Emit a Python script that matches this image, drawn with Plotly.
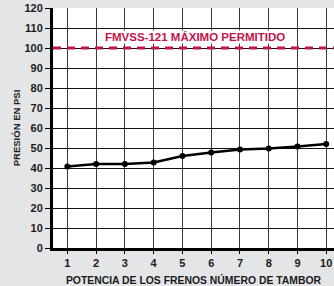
import plotly.graph_objects as go

drums = [1, 2, 3, 4, 5, 6, 7, 8, 9, 10]
pressure = [40.8, 42, 42, 42.8, 46, 47.8, 49.2, 49.7, 50.8, 52]
limit_value = 100
limit_label = "FMVSS-121 MÁXIMO PERMITIDO"
y_ticks = list(range(0, 121, 10))

fig = go.Figure()
fig.add_trace(go.Scatter(
    x=drums, y=pressure, mode="lines+markers",
    line=dict(color="black", width=2.5),
    marker=dict(color="black", size=6),
    showlegend=False,
))

fig.add_shape(type="line", xref="paper", yref="y", x0=0, x1=1,
              y0=limit_value, y1=limit_value,
              line=dict(color="#c4124a", width=3, dash="8px,6px"))

fig.add_annotation(x=5.43, y=105.3, xref="x", yref="y", text=limit_label,
                   showarrow=False, bgcolor="white", borderpad=0,
                   font=dict(family="Liberation Sans Narrow, Arial Narrow, Arial", size=11.5,
                             color="#c4124a", weight="bold"))

font_main = "Liberation Sans, Arial, sans-serif"
fig.update_layout(
    width=334, height=286,
    margin=dict(l=53, r=0, t=8, b=38),
    paper_bgcolor="#e4e5e7", plot_bgcolor="white",
    font=dict(family=font_main, color="#1a1a1a"),
    xaxis=dict(range=[0.5, 10.27], tickvals=drums, showgrid=True, automargin=False,
               gridcolor="#3a3a3a", gridwidth=1.2, zeroline=False,
               showline=True, linecolor="black", linewidth=3,
               ticks="outside", ticklen=3, tickcolor="black",
               tickfont=dict(size=11, weight="bold"),
               title=dict(text="POTENCIA DE LOS FRENOS NÚMERO DE TAMBOR",
                          font=dict(size=10.4, weight="bold"), standoff=9)),
    yaxis=dict(range=[0, 120], tickvals=y_ticks, showgrid=True, automargin=False,
               gridcolor="#111111", gridwidth=1.2, zeroline=False,
               showline=True, linecolor="black", linewidth=3,
               ticks="outside", ticklen=5, tickcolor="black",
               tickfont=dict(size=11, weight="bold"),
               title=dict(text="PRESIÓN EN PSI",
                          font=dict(size=9.5, weight="bold"), standoff=3)),
)

fig.write_html("out.html", config={"displayModeBar": False},
               post_script="document.body.style.margin='0';document.body.style.overflow='hidden';")
